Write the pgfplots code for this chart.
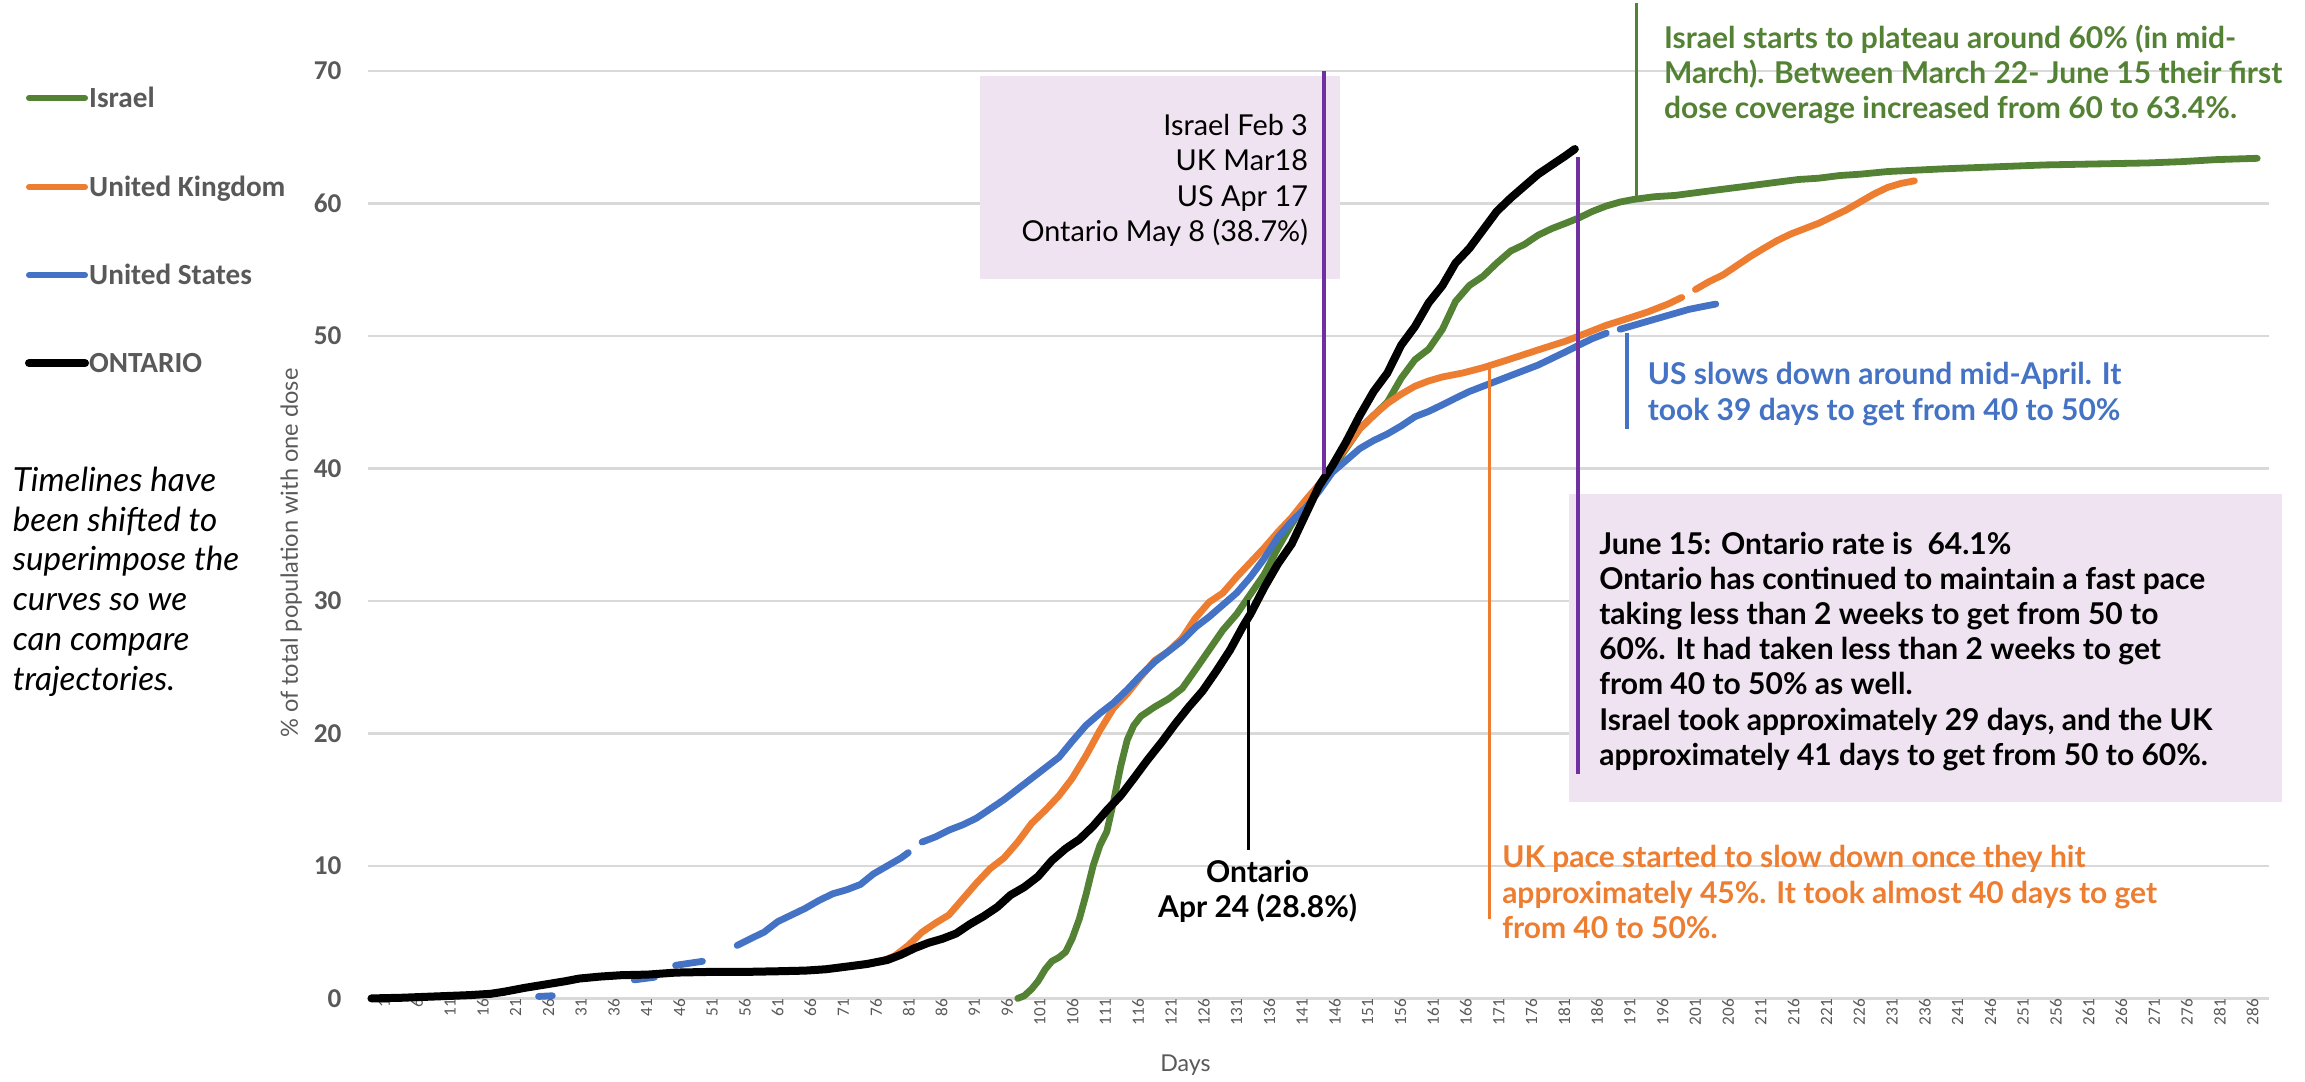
\documentclass[border=0pt]{standalone}
\usepackage{pgfplots}
\pgfplotsset{compat=1.18}
\usepackage{fontspec}
\setmainfont{Carlito}
\newfontfamily\lato{Lato}

\definecolor{israel}{HTML}{548235}
\definecolor{uk}{HTML}{ED7D31}
\definecolor{us}{HTML}{4472C4}
\definecolor{purp}{HTML}{7030A0}
\definecolor{boxfill}{HTML}{F0E3F1}
\definecolor{gridgray}{HTML}{D9D9D9}
\definecolor{tickgray}{HTML}{595959}

\newcommand\annb{\lato\fontsize{7.5}{8.75}\selectfont\bfseries}
\newcommand\annl{\lato\fontsize{7.2}{8.75}\selectfont}

\begin{document}
\begin{tikzpicture}
\path[use as bounding box] (0,0) rectangle (576pt,270.25pt);
\begin{axis}[
    at={(92pt,20.75pt)}, anchor=south west,
    scale only axis, width=475pt, height=231.8pt,
    xmin=0.5, xmax=290.5, ymin=0, ymax=70,
    xtick={1,6,...,286}, ytick={0,10,...,70},
    ymajorgrids, grid style={draw=gridgray, line width=0.6pt},
    axis line style={draw=none}, major tick length=0pt,
    /pgf/number format/assume math mode=true,
    tick label style={text=tickgray},
    xticklabel style={rotate=90, anchor=east, inner sep=0pt, yshift=-3.25pt,
        font=\fontsize{4.3}{5}\selectfont},
    yticklabel style={inner sep=0pt, xshift=-6.5pt,
        font=\fontsize{6.8}{8}\selectfont\bfseries},
    xlabel={Days},
    xlabel style={at={(axis description cs:0.43,-0.0723)}, anchor=center,
        text=tickgray, font=\lato\fontsize{5.8}{6.5}\selectfont},
    ylabel={\% of total population with one dose},
    ylabel style={at={(axis description cs:-0.0405,0.48)}, anchor=center,
        text=tickgray, font=\lato\fontsize{5.9}{6.5}\selectfont},
    clip=false, unbounded coords=jump,
    every axis plot/.append style={line cap=round, line join=round},
]
% Israel
\addplot[israel, line width=1.7pt] coordinates {
(99.6,0) (100.6,0.2) (101.7,0.7) (102.7,1.3) (103.8,2.2) (104.8,2.8) (105.9,3.1)
(106.9,3.5) (107.9,4.5) (109.0,6.0) (110.0,7.8) (111.1,10.0) (112.1,11.5)
(113.2,12.6) (114.2,14.8) (115.3,17.5) (116.3,19.5) (117.3,20.6) (118.4,21.3)
(120.5,22.0) (122.6,22.6) (124.7,23.4) (126.7,24.8) (128.8,26.3) (130.9,27.8)
(133.0,29.0) (135.1,30.5) (137.2,32.0) (139.3,34.0) (141.4,35.8) (143.5,37.4)
(145.6,38.7) (147.6,40.0) (149.7,41.5) (151.8,43.0) (153.9,44.0) (156.0,45.0)
(158.1,46.8) (160.2,48.2) (162.3,49.0) (164.4,50.5) (166.4,52.6) (168.5,53.8)
(170.6,54.5) (172.7,55.5) (174.8,56.4) (176.9,56.9) (179.0,57.6) (181.1,58.1)
(183.2,58.5) (185.2,58.9) (187.3,59.4) (189.4,59.8) (191.5,60.1) (193.6,60.3)
(196.7,60.5) (199.9,60.6) (203.0,60.8) (206.1,61.0) (209.3,61.2) (212.4,61.4)
(215.5,61.6) (218.7,61.8) (221.8,61.9) (225.0,62.1) (228.1,62.2) (232.3,62.4)
(236.4,62.5) (240.6,62.6) (245.8,62.7) (251.0,62.8) (256.3,62.9) (261.5,62.95)
(266.7,63.0) (272.0,63.05) (277.2,63.15) (282.4,63.3) (288.7,63.4)
};
% United Kingdom
\addplot[uk, line width=1.7pt] coordinates {
(75.6,2.5) (78.7,2.8) (80.8,3.2) (82.9,4.0) (85.0,5.0) (87.1,5.7) (89.1,6.3)
(91.2,7.5) (93.3,8.7) (95.4,9.8) (97.5,10.6) (99.6,11.8) (101.7,13.2)
(103.8,14.2) (105.9,15.3) (107.9,16.6) (110.0,18.3) (112.1,20.2) (114.2,21.9)
(116.3,23.0) (118.4,24.3) (120.5,25.5) (122.6,26.2) (124.7,27.2) (126.7,28.7)
(128.8,29.9) (130.9,30.6) (133.0,31.8) (135.1,32.9) (137.2,34.0) (139.3,35.2)
(141.4,36.3) (143.5,37.6) (145.6,38.8) (147.6,40.2) (149.7,41.6) (151.8,43.0)
(153.9,44.0) (156.0,44.9) (158.1,45.6) (160.2,46.2) (162.3,46.6) (164.4,46.9)
(167.5,47.2) (170.6,47.6) (173.8,48.1) (176.9,48.6) (180.0,49.1) (183.2,49.6)
(186.3,50.2) (189.4,50.8) (192.6,51.3) (195.7,51.8) (198.8,52.4) (200.9,52.9)
(201.9,nan) (203.0,53.5) (205.1,54.1) (207.2,54.6) (209.3,55.3) (211.4,56.0)
(213.4,56.6) (215.5,57.2) (217.6,57.7) (219.7,58.1) (221.8,58.5) (223.9,59.0)
(226.0,59.5) (228.1,60.1) (230.2,60.7) (232.3,61.2) (234.3,61.5) (236.4,61.7)
};
% United States
\addplot[us, line width=1.7pt] coordinates {
(26.5,0.15) (28.6,0.2) (29.6,nan) (41.1,1.4) (44.2,1.6) (45.3,nan) (47.4,2.5)
(51.5,2.8) (52.6,nan) (56.8,4.0) (58.8,4.5) (60.9,5.0) (63.0,5.8) (65.1,6.3)
(67.2,6.8) (69.3,7.4) (71.4,7.9) (73.5,8.2) (75.6,8.6) (77.6,9.4) (79.7,10.0)
(81.8,10.6) (82.9,11.0) (83.9,nan) (85.0,11.8) (87.1,12.2) (89.1,12.7)
(91.2,13.1) (93.3,13.6) (95.4,14.3) (97.5,15.0) (99.6,15.8) (101.7,16.6)
(103.8,17.4) (105.9,18.2) (107.9,19.4) (110.0,20.6) (112.1,21.5) (114.2,22.3)
(116.3,23.3) (118.4,24.4) (120.5,25.4) (122.6,26.2) (124.7,27.0) (126.7,28.0)
(128.8,28.8) (130.9,29.7) (133.0,30.6) (135.1,31.8) (137.2,33.2) (139.3,34.8)
(141.4,36.0) (143.5,37.0) (145.6,38.3) (147.6,39.7) (149.7,40.6) (151.8,41.5)
(153.9,42.1) (156.0,42.6) (158.1,43.2) (160.2,43.9) (162.3,44.3) (164.4,44.8)
(166.4,45.3) (168.5,45.8) (170.6,46.2) (172.7,46.6) (174.8,47.0) (176.9,47.4)
(179.0,47.8) (181.1,48.3) (183.2,48.8) (185.2,49.3) (187.3,49.8) (189.4,50.2)
(190.5,nan) (191.5,50.5) (193.6,50.8) (195.7,51.1) (197.8,51.4) (199.9,51.7)
(202.0,52.0) (204.0,52.2) (206.1,52.4)
};
% Ontario
\addplot[black, line width=2pt] coordinates {
(1,0) (5.6,0.05) (10.8,0.15) (16.0,0.25) (19.2,0.35) (21.2,0.5) (24.4,0.8)
(27.5,1.05) (30.6,1.3) (32.7,1.5) (35.9,1.65) (39.0,1.75) (43.2,1.8)
(47.4,1.95) (52.6,2.0) (57.8,2.0) (63.0,2.05) (67.2,2.1) (70.3,2.2) (73.5,2.4)
(76.6,2.6) (79.7,2.9) (81.8,3.3) (83.9,3.8) (86.0,4.2) (88.1,4.5) (90.2,4.9)
(92.3,5.6) (94.4,6.2) (96.5,6.9) (98.5,7.8) (100.6,8.4) (102.7,9.2)
(104.8,10.4) (106.9,11.3) (109.0,12.0) (111.1,13.0) (113.2,14.2) (115.3,15.3)
(117.3,16.6) (119.4,18.0) (121.5,19.3) (123.6,20.7) (125.7,22.0) (127.8,23.2)
(129.9,24.7) (132.0,26.3) (134.1,28.2) (135.1,29.0) (137.2,31.0) (139.3,32.8)
(141.4,34.3) (143.5,36.5) (145.6,38.7) (147.6,40.2) (149.7,42.0) (151.8,44.0)
(153.9,45.8) (156.0,47.2) (158.1,49.3) (160.2,50.7) (162.3,52.5) (164.4,53.8)
(166.4,55.5) (168.5,56.6) (170.6,58.0) (172.7,59.4) (174.8,60.4) (176.9,61.3)
(179.0,62.2) (181.1,62.9) (183.2,63.6) (184.6,64.1)
};

% box: dates at 40%
\fill[boxfill] (axis cs:93.8,54.3) rectangle (axis cs:148.7,69.6);
\node[anchor=base east, inner sep=0pt, font=\annl] at (axis cs:144.0,65.1) {Israel Feb 3};
\node[anchor=base east, inner sep=0pt, font=\annl] at (axis cs:144.0,62.45) {UK Mar18};
\node[anchor=base east, inner sep=0pt, font=\annl] at (axis cs:144.0,59.8) {US Apr 17};
\node[anchor=base east, inner sep=0pt, font=\annl] at (axis cs:144.0,57.15) {Ontario May 8 (38.7\%)};
\draw[purp, line width=1.1pt] (axis cs:146.3,70) -- (axis cs:146.3,39.6);

% box: Ontario June 15
\fill[boxfill] (axis cs:183.7,14.8) rectangle (axis cs:292.5,38.1);
\draw[purp, line width=1.1pt] (axis cs:185.1,63.5) -- (axis cs:185.1,16.9);
\node[anchor=base west, inner sep=0pt, font=\annb] at (axis cs:188.2,33.5) {June 15: Ontario rate is \ 64.1\%};
\node[anchor=base west, inner sep=0pt, font=\annb] at (axis cs:188.2,30.85) {Ontario has continued to maintain a fast pace};
\node[anchor=base west, inner sep=0pt, font=\annb] at (axis cs:188.2,28.2) {taking less than 2 weeks to get from 50 to};
\node[anchor=base west, inner sep=0pt, font=\annb] at (axis cs:188.2,25.55) {60\%. It had taken less than 2 weeks to get};
\node[anchor=base west, inner sep=0pt, font=\annb] at (axis cs:188.2,22.9) {from 40 to 50\% as well.};
\node[anchor=base west, inner sep=0pt, font=\annb] at (axis cs:188.2,20.25) {Israel took approximately 29 days, and the UK};
\node[anchor=base west, inner sep=0pt, font=\annb] at (axis cs:188.2,17.6) {approximately 41 days to get from 50 to 60\%.};

% Israel note
\draw[israel, line width=0.9pt] (axis cs:194.0,75.1) -- (axis cs:194.0,60.2);
\node[anchor=base west, inner sep=0pt, font=\annb, text=israel] at (axis cs:198.1,71.7) {Israel starts to plateau around 60\% (in mid-};
\node[anchor=base west, inner sep=0pt, font=\annb, text=israel] at (axis cs:198.1,69.06) {March). Between March 22- June 15 their first};
\node[anchor=base west, inner sep=0pt, font=\annb, text=israel] at (axis cs:198.1,66.4) {dose coverage increased from 60 to 63.4\%.};

% US note
\draw[us, line width=0.9pt] (axis cs:192.6,50.2) -- (axis cs:192.6,43.0);
\node[anchor=base west, inner sep=0pt, font=\annb, text=us] at (axis cs:195.6,46.3) {US slows down around mid-April. It};
\node[anchor=base west, inner sep=0pt, font=\annb, text=us] at (axis cs:195.6,43.6) {took 39 days to get from 40 to 50\%};

% UK note
\draw[uk, line width=0.9pt] (axis cs:171.6,47.6) -- (axis cs:171.6,6.0);
\node[anchor=base west, inner sep=0pt, font=\annb, text=uk] at (axis cs:173.4,9.9) {UK pace started to slow down once they hit};
\node[anchor=base west, inner sep=0pt, font=\annb, text=uk] at (axis cs:173.4,7.2) {approximately 45\%. It took almost 40 days to get};
\node[anchor=base west, inner sep=0pt, font=\annb, text=uk] at (axis cs:173.4,4.55) {from 40 to 50\%.};

% Ontario Apr 24 note
\draw[black, line width=0.9pt] (axis cs:134.8,30.1) -- (axis cs:134.8,11.2);
\node[anchor=base, inner sep=0pt, font=\annb] at (axis cs:136.2,8.77) {Ontario};
\node[anchor=base, inner sep=0pt, font=\annb] at (axis cs:136.2,6.1) {Apr 24 (28.8\%)};
\end{axis}

% legend
\foreach \yy/\col/\lw/\lab in {245.75/israel/1.5pt/Israel, 223.5/uk/1.5pt/United Kingdom,
    201.5/us/1.5pt/United States, 179.5/black/2pt/ONTARIO} {
  \draw[\col, line width=\lw, line cap=round] (7.25pt,\yy pt) -- (21.25pt,\yy pt);
  \node[anchor=base west, inner sep=0pt, text=tickgray,
        font=\fontsize{7.3}{8}\selectfont\bfseries] at (22.1pt,\yy pt-2.35pt) {\lab};
}

% side note
\foreach \i/\txt in {0/Timelines have, 1/been shifted to, 2/superimpose the,
    3/curves so we, 4/can compare, 5/trajectories.} {
  \node[anchor=base west, inner sep=0pt, font=\lato\itshape\fontsize{8.3}{10}\selectfont]
    at (3pt,147.5pt-\i*9.95pt) {\txt};
}
\end{tikzpicture}
\end{document}
